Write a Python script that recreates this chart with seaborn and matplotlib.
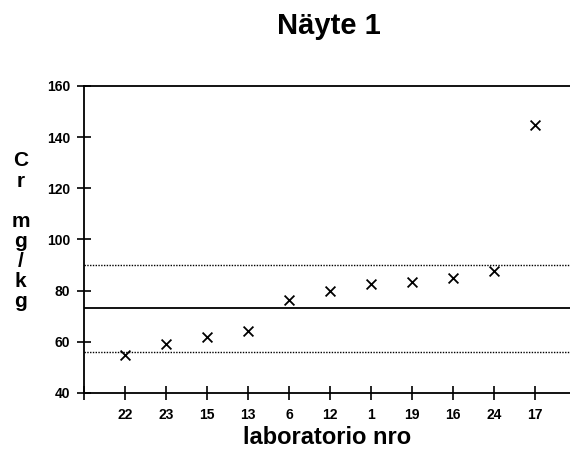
import matplotlib
matplotlib.use("Agg")
import matplotlib.pyplot as plt
import seaborn as sns
import pandas as pd

# Laboratory results for sample 1, sorted by value
labs = ["22", "23", "15", "13", "6", "12", "1", "19", "16", "24", "17"]
cr_values = [55.0, 59.3, 62.0, 64.4, 76.2, 79.7, 82.5, 83.3, 84.8, 87.6, 144.6]

# Assigned value and acceptance limits
assigned = 73.4
lower_limit = 56.1
upper_limit = 90.0

y_ticks = [40, 60, 80, 100, 120, 140, 160]

sns.set_theme(style="white")
plt.rcParams["font.family"] = ["Liberation Sans", "DejaVu Sans"]
plt.rcParams["text.color"] = "black"
plt.rcParams["axes.labelcolor"] = "black"

df = pd.DataFrame({"pos": range(1, len(labs) + 1), "lab": labs, "cr": cr_values})

fig = plt.figure(figsize=(5.7, 4.55), dpi=100)
ax = fig.add_axes([0.147, 0.1363, 0.853, 0.6747])

sns.scatterplot(data=df, x="pos", y="cr", marker="x", color="black",
                s=50, linewidth=1.3, ax=ax, legend=False)

ax.axhline(assigned, color="black", linewidth=1.3)
ax.axhline(upper_limit, color="black", linewidth=1.0, linestyle=(0, (1, 1)))
ax.axhline(lower_limit, color="black", linewidth=1.0, linestyle=(0, (1, 1)))

ax.set_xlim(0, 11.85)
ax.set_ylim(40, 160)
ax.set_xticks([0] + list(df["pos"]))
ax.set_xticklabels([""] + labs)
ax.set_yticks(y_ticks)
ax.set_yticklabels([str(t) for t in y_ticks])

for lbl in ax.get_xticklabels() + ax.get_yticklabels():
    lbl.set_fontweight("bold")
    lbl.set_fontsize(10)
    lbl.set_color("black")

ax.tick_params(axis="both", direction="inout", length=10, width=1.2,
               color="black", labelcolor="black", bottom=True, left=True,
               top=False, right=False)
ax.tick_params(axis="x", pad=6)
ax.tick_params(axis="y", pad=5)

for side in ["left", "bottom", "top"]:
    ax.spines[side].set_color("black")
    ax.spines[side].set_linewidth(1.3)
ax.spines["right"].set_visible(False)

ax.set_xlabel("laboratorio nro", fontsize=17, fontweight="bold", labelpad=3,
              color="black")
ax.set_ylabel("")

fig.text(0.577, 0.943, "Näyte 1", ha="center", va="center",
         fontsize=21, fontweight="bold", color="black")
fig.text(0.036, 0.492, "C\nr\n\nm\ng\n/\nk\ng", ha="center", va="center",
         fontsize=15, fontweight="bold", linespacing=1.07, color="black")

fig.savefig("out.png", dpi=100)
